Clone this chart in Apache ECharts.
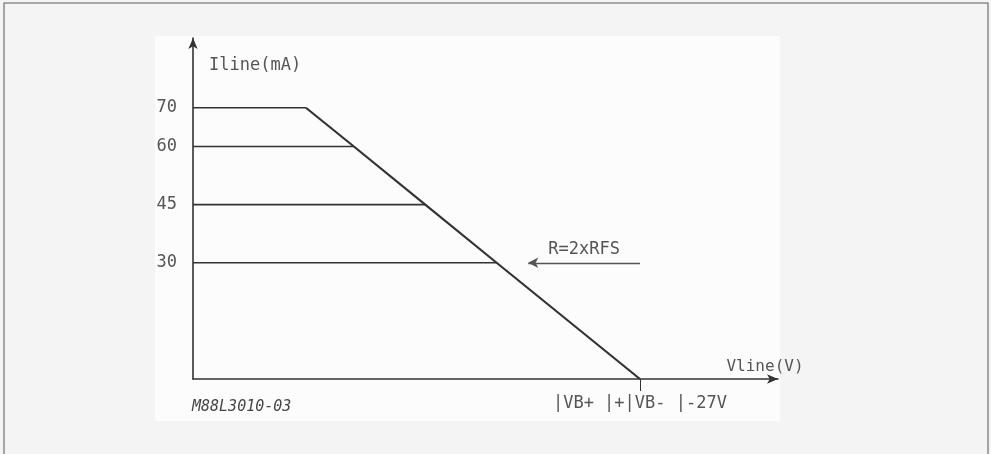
<!DOCTYPE html>
<html>
<head>
<meta charset="utf-8">
<style>
  html, body { margin: 0; padding: 0; background: #f4f4f4; }
  #chart-container { width: 991px; height: 454px; }
</style>
<script src="https://cdn.jsdelivr.net/npm/echarts@6/dist/echarts.min.js"></script>
</head>
<body>
<div id="chart-container"></div>
<script>
let dom = document.getElementById("chart-container");
let myChart = echarts.init(dom, null, { renderer: "canvas" });

// current limit levels (mA) and the voltage where each one meets the slope
const levels = [70, 60, 45, 30];
const kneeV = [19.3, 27.5, 39.7, 51.9];
// where the slope hits the V axis
const zeroV = [76.4];
const xTickLabels = ["|VB+ |+|VB- |-27V"];
// R = 2 x RFS pointer, from / to (V, mA)
const arrowFrom = [76.4, 30];
const arrowTo = [57.3, 30];

const ink = "#333";
const mono = "DejaVu Sans Mono";

const flatSeries = levels.map((lvl, i) => ({
  type: "line",
  symbol: "none",
  silent: true,
  lineStyle: { color: ink, width: 1.7 },
  data: [[0, lvl], [kneeV[i], lvl]],
}));

const slopeData = kneeV.map((v, i) => [v, levels[i]]).concat([[zeroV[0], 0]]);

let option = {
  backgroundColor: "#f4f4f4",
  animation: false,
  graphic: [
    // lighter paper where the figure sits
    {
      type: "rect",
      z: -10,
      shape: { x: 155, y: 36, width: 625, height: 385 },
      style: { fill: "#fcfcfc" },
    },
    // page frame
    {
      type: "rect",
      z: -5,
      shape: { x: 4, y: 3, width: 984, height: 470 },
      style: { fill: "none", stroke: "#8f8f8f", lineWidth: 1.6 },
    },
    {
      type: "text",
      left: 192,
      top: 400,
      style: {
        text: "M88L3010-03",
        font: "italic 15px " + mono,
        fill: "#444",
      },
    },
  ],
  grid: { left: 193, right: 213, top: 38, bottom: 75 },
  xAxis: {
    type: "value",
    min: 0,
    max: 100,
    name: "Vline(V)",
    nameLocation: "end",
    nameGap: -13,
    nameTextStyle: {
      fontFamily: mono,
      fontSize: 16,
      color: "#555",
      align: "center",
      verticalAlign: "bottom",
      padding: [0, 0, 4, 0],
    },
    splitLine: { show: false },
    axisLine: {
      symbol: ["none", "arrow"],
      symbolSize: [7, 11],
      lineStyle: { color: ink, width: 1.6 },
    },
    axisTick: {
      show: true,
      customValues: zeroV,
      length: 12,
      lineStyle: { color: ink, width: 1 },
    },
    axisLabel: {
      customValues: zeroV,
      formatter: () => xTickLabels[0],
      fontFamily: mono,
      fontSize: 17,
      color: "#555",
      margin: 16,
    },
  },
  yAxis: {
    type: "value",
    min: 0,
    max: 88,
    name: "Iline(mA)",
    nameLocation: "end",
    nameGap: -28,
    nameTextStyle: {
      fontFamily: mono,
      fontSize: 17,
      color: "#555",
      align: "left",
      verticalAlign: "middle",
      padding: [0, 0, 0, 16],
    },
    splitLine: { show: false },
    axisLine: {
      show: true,
      symbol: ["none", "arrow"],
      symbolSize: [7, 11],
      lineStyle: { color: ink, width: 1.6 },
    },
    axisTick: { show: false },
    axisLabel: {
      customValues: levels,
      fontFamily: mono,
      fontSize: 17,
      color: "#555",
      margin: 16,
    },
  },
  series: flatSeries.concat([
    {
      type: "line",
      symbol: "none",
      silent: true,
      lineStyle: { color: ink, width: 2.2 },
      data: slopeData,
    },
    {
      type: "line",
      symbol: "none",
      silent: true,
      data: [],
      markLine: {
        silent: true,
        symbol: ["none", "arrow"],
        symbolSize: [8, 10],
        lineStyle: { color: "#555", width: 1.3, type: "solid" },
        label: {
          show: true,
          position: "middle",
          formatter: "R=2xRFS",
          fontFamily: mono,
          fontSize: 17,
          color: "#555",
          distance: 5,
        },
        data: [[{ coord: arrowFrom }, { coord: arrowTo }]],
      },
    },
  ]),
};

myChart.setOption(option);
window.addEventListener("resize", myChart.resize);
</script>
</body>
</html>
